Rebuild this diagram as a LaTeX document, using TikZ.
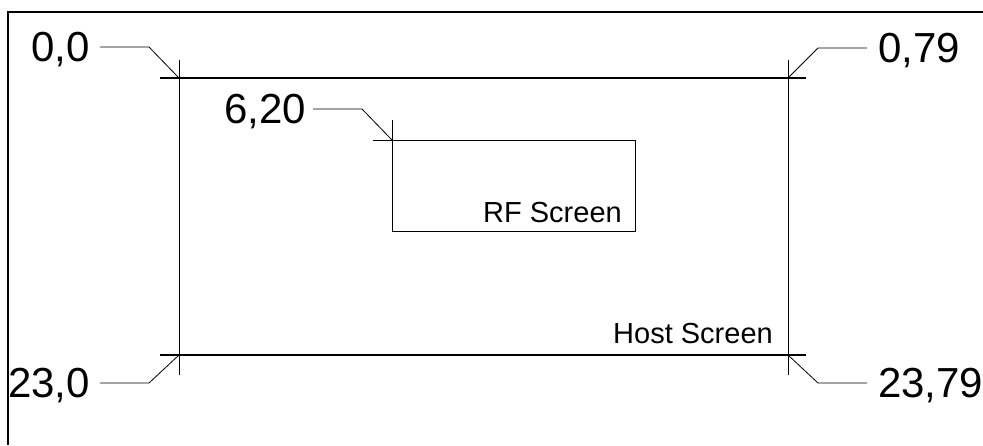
\documentclass[tikz,border=0pt]{standalone}
\usepackage{fontspec}
\setmainfont{Liberation Sans}
\usetikzlibrary{positioning,calc}
\tikzset{coordlbl/.style={inner sep=0pt,text depth=0pt,font=\fontsize{42}{50}\selectfont},
 scrlbl/.style={inner sep=0pt,font=\fontsize{29}{34}\selectfont},
 hline/.style={line width=1.6pt},
 vline/.style={line width=0.9pt},
 leader/.style={line width=0.8pt}}

\begin{document}
\begin{tikzpicture}[x=1pt,y=-1pt]
\useasboundingbox(0,0) rectangle (983,445);
\draw[line width=2pt](8,445)--(8,12)--(983,12);
% host screen corners
\coordinate(htl) at(179,78);\coordinate(htr) at(788,78);
\coordinate(hbl) at(179,355);\coordinate(hbr) at(788,355);
\draw[hline]([xshift=-19pt]htl)--([xshift=18pt]htr)([xshift=-19pt]hbl)--([xshift=18pt]hbr);
\draw[vline]([yshift=18pt]htl)--([yshift=-20pt]hbl)([yshift=18pt]htr)--([yshift=-20pt]hbr);
\node[scrlbl,anchor=base east](hs) at(773,343){Host Screen};
% rf screen
\coordinate(rtl) at(392,140);\coordinate(rbr) at(635,231);
\draw[vline](rtl) rectangle (rbr)([xshift=-19pt]rtl)--(rtl)([yshift=20pt]rtl)--(rtl);
\node[scrlbl,anchor=base east](rs) at(622,222){RF Screen};
% corner values
\node[coordlbl,anchor=east](p00) at(90,47){0,0};
\node[coordlbl,anchor=west](p079) at(878,48){0,79};
\node[coordlbl,anchor=east](p230) at(90,383){23,0};
\node[coordlbl,anchor=west](p2379) at(878,383){23,79};
\node[coordlbl,anchor=east](p620) at(306,109){6,20};
\draw[leader]([xshift=10pt]p00.east)--++(49,0)--(htl);
\draw[leader]([xshift=-11pt]p079.west)--++(-49,0)--(htr);
\draw[leader]([xshift=10pt]p230.east)--++(49,0)--(hbl);
\draw[leader]([xshift=-11pt]p2379.west)--++(-49,0)--(hbr);
\draw[leader]([xshift=7pt]p620.east)--++(49,0)--(rtl);
\end{tikzpicture}
\end{document}
